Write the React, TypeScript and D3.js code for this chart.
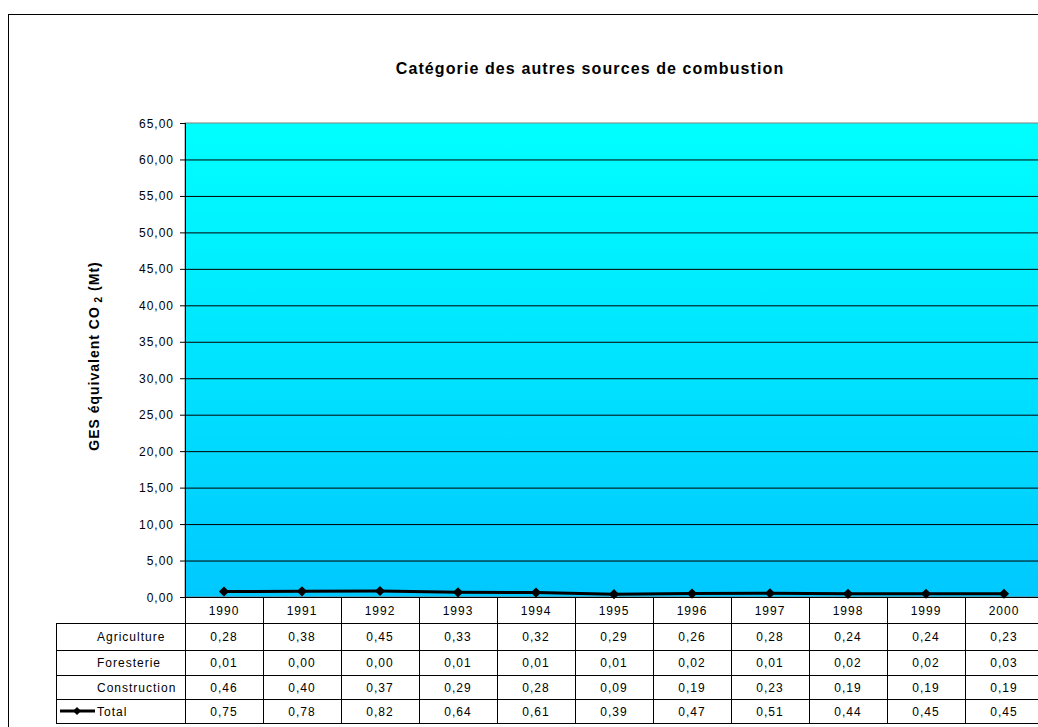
import * as d3 from "d3";

const years = ["1990", "1991", "1992", "1993", "1994", "1995", "1996", "1997", "1998", "1999", "2000"];
const agriculture = [0.28, 0.38, 0.45, 0.33, 0.32, 0.29, 0.26, 0.28, 0.24, 0.24, 0.23];
const foresterie = [0.01, 0.0, 0.0, 0.01, 0.01, 0.01, 0.02, 0.01, 0.02, 0.02, 0.03];
const construction = [0.46, 0.4, 0.37, 0.29, 0.28, 0.09, 0.19, 0.23, 0.19, 0.19, 0.19];
const total = [0.75, 0.78, 0.82, 0.64, 0.61, 0.39, 0.47, 0.51, 0.44, 0.45, 0.45];
const yTicks = [0, 5, 10, 15, 20, 25, 30, 35, 40, 45, 50, 55, 60, 65];

const rows = [
  { name: "Agriculture", values: agriculture },
  { name: "Foresterie", values: foresterie },
  { name: "Construction", values: construction },
  { name: "Total", values: total },
];

const W = 1038;
const H = 727;
const plot = { left: 185, top: 123, right: 1043, bottom: 597 };
const font = "'Liberation Sans', Arial, sans-serif";
const fmt = (v: number) => v.toFixed(2).replace(".", ",");

export default function App() {
  const x = d3.scaleBand<string>().domain(years).range([plot.left, plot.right]).padding(0);
  const y = d3.scaleLinear().domain([0, 65]).range([plot.bottom, plot.top]);
  const cx = (i: number) => (x(years[i]) ?? 0) + x.bandwidth() / 2;

  // table rows: header (years) then the four series
  const rowEdges = [597, 623, 650, 675, 699, 723];
  const tableLeft = 56;

  const line = d3
    .line<number>()
    .x((_, i) => cx(i))
    .y((d) => y(d));

  const diamond = d3.symbol(d3.symbolDiamond2, 66)() ?? "";
  const smallDiamond = d3.symbol(d3.symbolDiamond2, 40)() ?? "";

  return (
    <svg width={W} height={H} style={{ position: "absolute", left: 0, top: 0 }} fontFamily={font}>
      <defs>
        <linearGradient id="bg" x1="0" y1="0" x2="0" y2="1">
          <stop offset="0%" stopColor="#00ffff" />
          <stop offset="100%" stopColor="#00c8ff" />
        </linearGradient>
      </defs>
      <rect x={0} y={0} width={W} height={H} fill="#fff" />
      {/* chart frame */}
      <rect x={8.5} y={14.5} width={W} height={H} fill="none" stroke="#000" strokeWidth={1} />

      <text x={590} y={74} textAnchor="middle" fontSize={16} fontWeight="bold" letterSpacing={1.1} fill="#000">
        Catégorie des autres sources de combustion
      </text>

      {/* plot area */}
      <rect
        x={plot.left}
        y={plot.top}
        width={plot.right - plot.left}
        height={plot.bottom - plot.top}
        fill="url(#bg)"
        stroke="#808080"
        strokeWidth={1}
      />
      {yTicks.slice(1, -1).map((t) => (
        <line key={t} x1={plot.left} x2={plot.right} y1={y(t) + 0.5} y2={y(t) + 0.5} stroke="#000" strokeWidth={1} />
      ))}
      {yTicks.map((t) => (
        <g key={"t" + t}>
          <line x1={plot.left - 5} x2={plot.left} y1={y(t) + 0.5} y2={y(t) + 0.5} stroke="#000" />
          <text x={174} y={y(t) + 4.5} textAnchor="end" fontSize={12} letterSpacing={1} fill="#000">
            {fmt(t)}
          </text>
        </g>
      ))}
      <line x1={plot.left + 0.5} x2={plot.left + 0.5} y1={plot.top} y2={plot.bottom} stroke="#000" />
      <line x1={plot.left - 5} x2={plot.right} y1={plot.bottom + 0.5} y2={plot.bottom + 0.5} stroke="#000" />

      <text
        transform={`translate(99,356) rotate(-90)`}
        textAnchor="middle"
        fontSize={14}
        fontWeight="bold"
        letterSpacing={1}
        fill="#000"
      >
        GES équivalent CO
        <tspan fontSize={10} dy={3}> 2</tspan>
        <tspan dy={-3}> (Mt)</tspan>
      </text>

      {/* Total line */}
      <path d={line(total) ?? ""} fill="none" stroke="#000" strokeWidth={3} />
      {total.map((v, i) => (
        <path key={i} d={diamond} transform={`translate(${cx(i)},${y(v)})`} fill="#000" />
      ))}

      {/* data table */}
      <g stroke="#000" strokeWidth={1}>
        {rowEdges.slice(1).map((ry) => (
          <line key={ry} x1={tableLeft} x2={plot.right} y1={ry + 0.5} y2={ry + 0.5} />
        ))}
        <line x1={tableLeft + 0.5} x2={tableLeft + 0.5} y1={rowEdges[1]} y2={rowEdges[5]} />
        {years.map((yr) => (
          <line
            key={yr}
            x1={Math.round(x(yr) ?? 0) + 0.5}
            x2={Math.round(x(yr) ?? 0) + 0.5}
            y1={rowEdges[0]}
            y2={rowEdges[5]}
          />
        ))}
      </g>
      {years.map((yr, i) => (
        <text
          key={yr}
          x={cx(i)}
          y={(rowEdges[0] + rowEdges[1]) / 2 + 5}
          textAnchor="middle"
          fontSize={12}
          letterSpacing={1}
          fill="#000"
        >
          {yr}
        </text>
      ))}
      {rows.map((r, ri) => {
        const cy = (rowEdges[ri + 1] + rowEdges[ri + 2]) / 2 + 4.5;
        return (
          <g key={r.name}>
            {r.name === "Total" && (
              <g>
                <line x1={60} x2={95} y1={cy - 4.5} y2={cy - 4.5} stroke="#000" strokeWidth={3} />
                <path d={smallDiamond} transform={`translate(77,${cy - 4.5})`} fill="#000" />
              </g>
            )}
            <text x={97} y={cy} fontSize={12} letterSpacing={1} fill="#000">
              {r.name}
            </text>
            {r.values.map((v, i) => (
              <text key={i} x={cx(i)} y={cy} textAnchor="middle" fontSize={12} letterSpacing={1} fill="#000">
                {fmt(v)}
              </text>
            ))}
          </g>
        );
      })}
    </svg>
  );
}
